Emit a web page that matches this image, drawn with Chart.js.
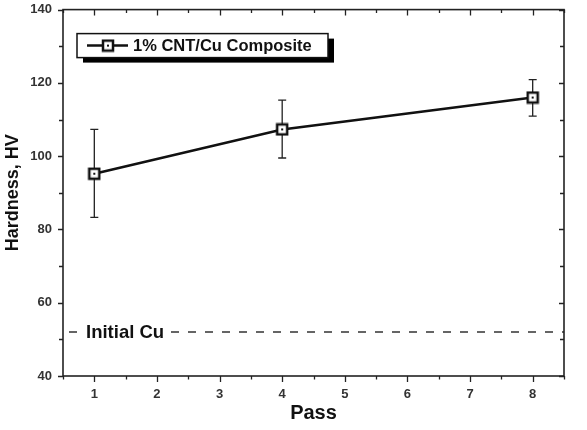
<!DOCTYPE html>
<html>
<head>
<meta charset="utf-8">
<script src="https://cdn.jsdelivr.net/npm/chart.js@4.4.1/dist/chart.umd.min.js"></script>
<style>
  body { margin: 0; background: #fff; }
  #c { display: block; }
</style>
</head>
<body>
<canvas id="c" width="587" height="430"></canvas>
<script>
  // data
  const passes = [1, 4, 8];
  const hardness = [95.2, 107.3, 116.0];
  const errLow = [83.3, 99.5, 110.9];
  const errHigh = [107.3, 115.3, 120.9];
  const initialCu = 52;
  const xRange = [0.5, 8.5];
  const yRange = [40, 140];
  const seriesName = '1% CNT/Cu Composite';
  const refName = 'Initial Cu';

  const FONT = '"Liberation Sans", Arial, sans-serif';
  const INK = '#111';

  function makeMarker(){
    const c = document.createElement('canvas');
    c.width = 14; c.height = 14;
    const g = c.getContext('2d');
    g.fillStyle = '#fff';
    g.fillRect(2, 2, 10, 10);
    g.strokeStyle = INK;
    g.lineWidth = 2.5;
    g.strokeRect(2, 2, 10, 10);
    g.fillStyle = INK;
    g.fillRect(6, 6, 2, 2);
    return c;
  }
  const marker = makeMarker();

  // error bars under the markers
  const errorBars = {
    id: 'errorBars',
    beforeDatasetsDraw(chart){
      const {ctx, scales:{x, y}} = chart;
      ctx.save();
      ctx.strokeStyle = '#222';
      ctx.lineWidth = 1.3;
      passes.forEach((p, i) => {
        const px = x.getPixelForValue(p);
        const lo = y.getPixelForValue(errLow[i]);
        const hi = y.getPixelForValue(errHigh[i]);
        ctx.beginPath();
        ctx.moveTo(px, lo); ctx.lineTo(px, hi);
        ctx.moveTo(px - 4, lo); ctx.lineTo(px + 4, lo);
        ctx.moveTo(px - 4, hi); ctx.lineTo(px + 4, hi);
        ctx.stroke();
      });
      ctx.restore();
    }
  };

  // frame, ticks on all four sides, legend box, reference label
  const decor = {
    id: 'decor',
    afterDraw(chart){
      const {ctx, chartArea:a, scales:{x, y}} = chart;
      ctx.save();
      ctx.strokeStyle = '#222';
      ctx.lineWidth = 1.3;
      ctx.beginPath();
      x.ticks.forEach(t => {
        const px = Math.round(x.getPixelForValue(t.value)) + 0.5;
        const len = Number.isInteger(t.value) ? 6 : 3.5;
        ctx.moveTo(px, a.bottom); ctx.lineTo(px, a.bottom + len);
        ctx.moveTo(px, a.top); ctx.lineTo(px, a.top + len);
      });
      y.ticks.forEach(t => {
        const py = Math.round(y.getPixelForValue(t.value)) + 0.5;
        const len = t.value % 20 === 0 ? 5 : 4;
        ctx.moveTo(a.left - len, py); ctx.lineTo(a.left, py);
        ctx.moveTo(a.right, py); ctx.lineTo(a.right - len, py);
      });
      ctx.stroke();
      ctx.lineWidth = 1.6;
      ctx.strokeRect(a.left, a.top, a.right - a.left, a.bottom - a.top);

      // reference line label
      const ly = y.getPixelForValue(initialCu);
      ctx.font = 'bold 18.5px ' + FONT;
      ctx.textBaseline = 'middle';
      const tw = ctx.measureText(refName).width;
      const tx = a.left + 23;
      ctx.fillStyle = '#fff';
      ctx.fillRect(tx - 6, ly - 6, tw + 11, 12);
      ctx.fillStyle = INK;
      ctx.fillText(refName, tx, ly + 1);

      // legend with drop shadow
      const bx = a.left + 14, by = a.top + 24, bw = 251, bh = 24;
      ctx.fillStyle = '#000';
      ctx.fillRect(bx + 6, by + 5, bw, bh);
      ctx.fillStyle = '#fff';
      ctx.fillRect(bx, by, bw, bh);
      ctx.strokeStyle = INK;
      ctx.lineWidth = 1.5;
      ctx.strokeRect(bx, by, bw, bh);
      const my = by + 12;
      ctx.lineWidth = 2.5;
      ctx.beginPath();
      ctx.moveTo(bx + 10, my); ctx.lineTo(bx + 51, my);
      ctx.stroke();
      ctx.drawImage(marker, bx + 31 - 7, my - 7);
      ctx.fillStyle = INK;
      ctx.font = 'bold 16.5px ' + FONT;
      ctx.fillText(seriesName, bx + 56, my + 1);
      ctx.restore();
    }
  };

  new Chart(document.getElementById('c'), {
    type: 'line',
    data: {
      datasets: [
        {
          label: seriesName,
          data: passes.map((p, i) => ({x: p, y: hardness[i]})),
          borderColor: INK,
          borderWidth: 2.6,
          pointStyle: marker,
          pointRadius: 7,
          tension: 0
        },
        {
          label: refName,
          data: xRange.map(v => ({x: v, y: initialCu})),
          borderColor: '#333',
          borderWidth: 1.6,
          borderDash: [8, 9],
          borderDashOffset: 11,
          pointRadius: 0
        }
      ]
    },
    options: {
      responsive: false,
      animation: false,
      devicePixelRatio: 1,
      layout: { padding: { top: 9, right: 23, left: 0, bottom: 0 } },
      plugins: { legend: { display: false }, tooltip: { enabled: false } },
      scales: {
        x: {
          type: 'linear',
          min: xRange[0], max: xRange[1],
          afterFit(s){ s.height = 54; s.paddingLeft = 0; s.paddingRight = 0; },
          grid: { display: false, drawTicks: false },
          border: { display: false },
          ticks: {
            stepSize: 0.5,
            autoSkip: false,
            maxRotation: 0,
            padding: 11,
            color: '#333',
            font: { family: FONT, size: 13, weight: 'bold' },
            callback: v => Number.isInteger(v) ? v : ''
          },
          title: {
            display: true,
            text: 'Pass',
            color: INK,
            padding: { top: 0, bottom: 5 },
            font: { family: FONT, size: 20, weight: 'bold' }
          }
        },
        y: {
          min: yRange[0], max: yRange[1],
          afterFit(s){ s.width = 63; s.paddingTop = 0; s.paddingBottom = 0; },
          grid: { display: false, drawTicks: false },
          border: { display: false },
          ticks: {
            stepSize: 10,
            autoSkip: false,
            padding: 11,
            color: '#333',
            font: { family: FONT, size: 13, weight: 'bold' },
            callback: v => v % 20 === 0 ? v : ''
          },
          title: {
            display: true,
            text: 'Hardness, HV',
            color: INK,
            padding: { top: 2, bottom: 0 },
            font: { family: FONT, size: 18, weight: 'bold' }
          }
        }
      }
    },
    plugins: [errorBars, decor]
  });
</script>
</body>
</html>
